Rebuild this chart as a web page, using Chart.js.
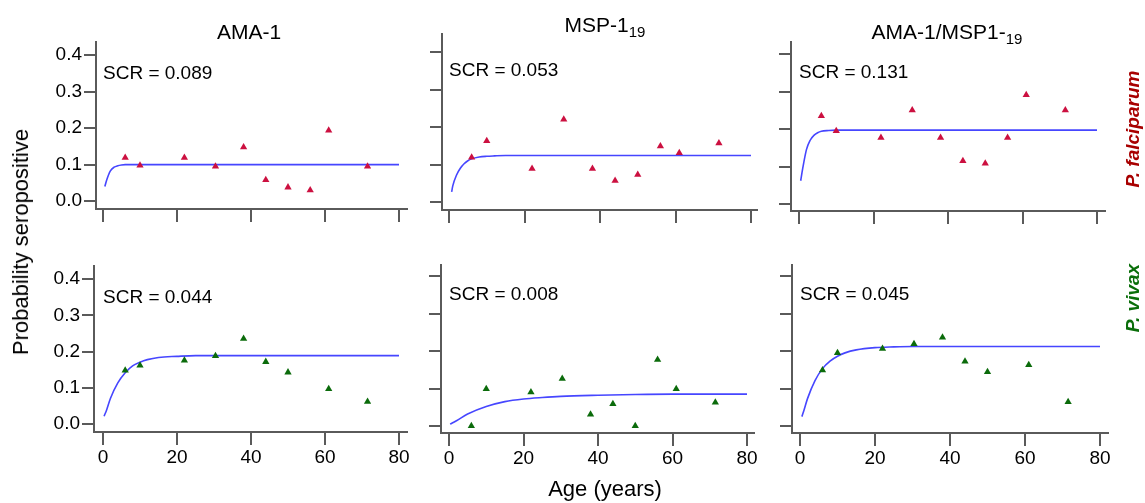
<!DOCTYPE html>
<html>
<head>
<meta charset="utf-8">
<script src="https://cdn.jsdelivr.net/npm/chart.js@4.4.1/dist/chart.umd.min.js"></script>
<style>
  body { margin: 0; background: #fff; }
  #wrap { position: relative; width: 1145px; height: 503px; overflow: hidden;
          font-family: "Liberation Sans", Arial, sans-serif; color: #000; background: #fff; }
  #wrap canvas { position: absolute; }
  .lbl { position: absolute; white-space: nowrap; line-height: 1; transform: translate(-50%, -50%); }
  .ttl { font-size: 21px; }
  .ttl sub { font-size: 15px; vertical-align: -5px; line-height: 0; }
  .axt { font-size: 22px; }
  .rot { transform: translate(-50%, -50%) rotate(-90deg); }
  .sp { font-size: 19px; font-weight: bold; font-style: italic; }
</style>
</head>
<body>
<div id="wrap"></div>
<script>
// age group midpoints (years)
var ages = [6, 10, 22, 30.4, 38, 44, 50, 56, 61, 71.5];

// observed proportion seropositive, P. falciparum
var pfAMA  = [0.119, 0.098, 0.119, 0.095, 0.148, 0.058, 0.038, 0.030, 0.194, 0.095];
var pfMSP  = [0.119, 0.163, 0.089, 0.220, 0.089, 0.057, 0.073, 0.149, 0.131, 0.157];
var pfBoth = [0.235, 0.195, 0.177, 0.250, 0.177, 0.115, 0.108, 0.177, 0.291, 0.250];

// observed proportion seropositive, P. vivax
var pvAMA  = [0.148, 0.162, 0.176, 0.188, 0.236, 0.172, 0.143, null, 0.097, 0.062];
var pvMSP  = [0.000, 0.099, 0.090, 0.126, 0.031, 0.059, 0.000, 0.177, 0.099, 0.063];
var pvBoth = [0.149, 0.195, 0.206, 0.219, 0.236, 0.172, 0.144, null, 0.163, 0.064];

// fitted curves
var fitAgePfAMA  = [0.5, 1, 2, 3, 4, 5, 6, 8, 10, 80];
var fitPfAMA     = [0.040, 0.058, 0.083, 0.093, 0.097, 0.099, 0.100, 0.100, 0.100, 0.100];
var fitAgePfMSP  = [0.7, 1, 2, 3, 4, 5, 6, 8, 10, 12, 15, 80];
var fitPfMSP     = [0.027, 0.043, 0.072, 0.090, 0.102, 0.110, 0.115, 0.120, 0.122, 0.123, 0.124, 0.124];
var fitAgePfBoth = [0.45, 1, 2, 3, 4, 5, 6, 8, 10, 80];
var fitPfBoth    = [0.062, 0.095, 0.145, 0.170, 0.183, 0.190, 0.194, 0.196, 0.197, 0.197];
var fitAgePvAMA  = [0.3, 1, 2, 4, 6, 8, 10, 12, 15, 20, 25, 30, 80];
var fitPvAMA     = [0.022, 0.040, 0.071, 0.114, 0.142, 0.161, 0.171, 0.178, 0.184, 0.187, 0.189, 0.189, 0.189];
var fitAgePvMSP  = [0.3, 2, 5, 10, 15, 20, 25, 30, 40, 50, 60, 80];
var fitPvMSP     = [0.005, 0.014, 0.032, 0.052, 0.065, 0.072, 0.076, 0.079, 0.082, 0.084, 0.085, 0.085];
var fitAgePvBoth = [0.5, 1, 2, 4, 6, 8, 10, 12, 15, 20, 25, 30, 80];
var fitPvBoth    = [0.025, 0.040, 0.073, 0.121, 0.153, 0.173, 0.186, 0.195, 0.203, 0.209, 0.211, 0.212, 0.212];

var scrValues = ['0.089', '0.053', '0.131', '0.044', '0.008', '0.045'];
var titles = ['AMA-1', 'MSP-1<sub>19</sub>', 'AMA-1/MSP1-<sub>19</sub>'];
var xTicks = [0, 20, 40, 60, 80];
var yTicks = [0, 0.1, 0.2, 0.3, 0.4];

var FONT = '"Liberation Sans", Arial, sans-serif';
var AXIS = '#5a5a5a';
var RED = '#cc1040';
var GREEN = '#0b6b0b';
var BLUE = '#4646ff';
var W_Y = 60, H_X = 40, PAD = 10;

var panels = [
  { obs: pfAMA,  fx: fitAgePfAMA,  fy: fitPfAMA,  color: RED },
  { obs: pfMSP,  fx: fitAgePfMSP,  fy: fitPfMSP,  color: RED },
  { obs: pfBoth, fx: fitAgePfBoth, fy: fitPfBoth, color: RED },
  { obs: pvAMA,  fx: fitAgePvAMA,  fy: fitPvAMA,  color: GREEN },
  { obs: pvMSP,  fx: fitAgePvMSP,  fy: fitPvMSP,  color: GREEN },
  { obs: pvBoth, fx: fitAgePvBoth, fy: fitPvBoth, color: GREEN }
];

// plot area edges and pixel positions of x=0, x=80, y=0, y=0.4
var boxes = [
  { left: 96,  right: 407,  top: 39,  bottom: 209, x0: 103, x80: 399,  y0: 201, y4: 52 },
  { left: 442, right: 757,  top: 34,  bottom: 210, x0: 449, x80: 751,  y0: 202, y4: 52 },
  { left: 791, right: 1105, top: 42,  bottom: 211, x0: 799, x80: 1097, y0: 204, y4: 54 },
  { left: 94,  right: 407,  top: 263, bottom: 432, x0: 103, x80: 399,  y0: 424, y4: 276 },
  { left: 441, right: 754,  top: 265, bottom: 433, x0: 449, x80: 747,  y0: 426, y4: 276 },
  { left: 792, right: 1108, top: 265, bottom: 433, x0: 800, x80: 1100, y0: 426, y4: 276 }
];

var scrLabel = {
  id: 'scrLabel',
  afterDatasetsDraw: function(chart, args, opts) {
    var ctx = chart.ctx;
    ctx.save();
    ctx.font = '19px ' + FONT;
    ctx.fillStyle = '#000';
    ctx.textAlign = 'left';
    ctx.textBaseline = 'middle';
    ctx.fillText(opts.text, chart.scales.x.getPixelForValue(0), chart.scales.y.getPixelForValue(0.35));
    ctx.restore();
  }
};

function axis(isX, min, max, vals, showLabels) {
  return {
    type: 'linear',
    position: isX ? 'bottom' : 'left',
    min: min, max: max, bounds: 'data',
    afterBuildTicks: function(s) { s.ticks = vals.map(function(v) { return { value: v }; }); },
    afterFit: function(s) { if (isX) s.height = H_X; else s.width = W_Y; },
    grid: { drawOnChartArea: false, drawTicks: true, tickLength: isX ? 13 : 12,
            color: AXIS, tickColor: AXIS, lineWidth: 2, tickWidth: 2 },
    border: { display: true, color: AXIS, width: 2 },
    ticks: {
      display: showLabels, autoSkip: false, maxRotation: 0, padding: isX ? 1 : 2,
      color: '#000', font: { size: 19, family: FONT },
      callback: function(v) { return isX ? String(v) : v.toFixed(1); }
    }
  };
}

var wrap = document.getElementById('wrap');

panels.forEach(function(p, i) {
  var b = boxes[i];
  var w = b.right - b.left + W_Y + 2 * PAD;
  var h = b.bottom - b.top + H_X + 2 * PAD;
  var cv = document.createElement('canvas');
  cv.width = w; cv.height = h;
  cv.style.width = w + 'px'; cv.style.height = h + 'px';
  cv.style.left = (b.left - W_Y - PAD) + 'px';
  cv.style.top = (b.top - PAD) + 'px';
  wrap.appendChild(cv);

  var xu = (b.x80 - b.x0) / 80, yu = (b.y0 - b.y4) / 0.4;
  var obsPts = [];
  ages.forEach(function(a, k) { if (p.obs[k] !== null) obsPts.push({ x: a, y: p.obs[k] }); });
  var fitPts = p.fx.map(function(a, k) { return { x: a, y: p.fy[k] }; });

  new Chart(cv.getContext('2d'), {
    type: 'scatter',
    data: {
      datasets: [
        { data: obsPts, pointStyle: 'triangle', pointRadius: 4.2, pointHoverRadius: 4.2,
          backgroundColor: p.color, borderColor: p.color, borderWidth: 0 },
        { data: fitPts, showLine: true, pointRadius: 0, borderColor: BLUE, borderWidth: 1.6,
          cubicInterpolationMode: 'monotone', fill: false }
      ]
    },
    options: {
      responsive: false,
      animation: false,
      layout: { padding: PAD },
      plugins: { legend: { display: false }, tooltip: { enabled: false },
                 scrLabel: { text: 'SCR = ' + scrValues[i] } },
      scales: {
        x: axis(true, (b.left - b.x0) / xu, (b.right - b.x0) / xu, xTicks, i >= 3),
        y: axis(false, -(b.bottom - b.y0) / yu, (b.y0 - b.top) / yu, yTicks, i % 3 === 0)
      }
    },
    plugins: [scrLabel]
  });
});

function addLabel(cls, html, x, y, color) {
  var d = document.createElement('div');
  d.className = 'lbl ' + cls;
  d.innerHTML = html;
  d.style.left = x + 'px';
  d.style.top = y + 'px';
  if (color) d.style.color = color;
  wrap.appendChild(d);
}

var titlePos = [[249, 31], [605, 24], [947, 31]];
titles.forEach(function(t, i) { addLabel('ttl', t, titlePos[i][0], titlePos[i][1]); });
addLabel('axt', 'Age (years)', 605, 489);
addLabel('axt rot', 'Probability seropositive', 21, 242);
addLabel('sp rot', 'P. falciparum', 1132, 129, '#a80000');
addLabel('sp rot', 'P. vivax', 1132, 298, '#0a6e0a');
</script>
</body>
</html>
